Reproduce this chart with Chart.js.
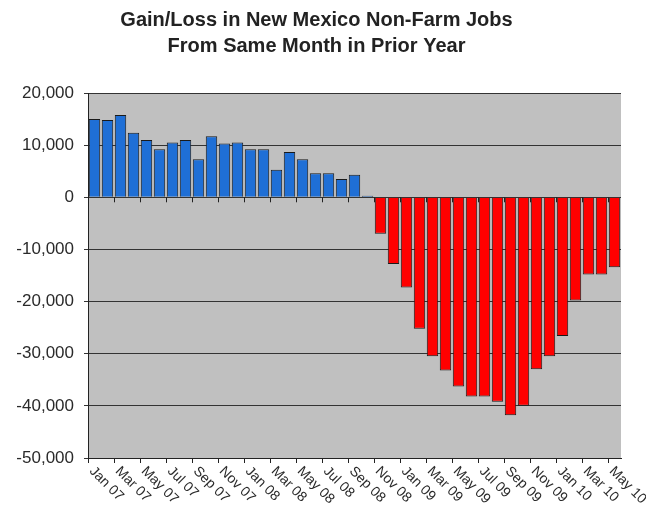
<!DOCTYPE html>
<html>
<head>
<meta charset="utf-8">
<script src="https://cdn.jsdelivr.net/npm/chart.js@4"></script>
<style>
  html, body { margin: 0; padding: 0; background: #fff; }
  #wrap { width: 646px; height: 513px; }
</style>
</head>
<body>
<div id="wrap"><canvas id="jobs-graph"></canvas></div>
<script>
// month labels, Jan 07 .. May 10
let month_labels = ["Jan 07","Feb 07","Mar 07","Apr 07","May 07","Jun 07","Jul 07","Aug 07","Sep 07","Oct 07","Nov 07","Dec 07",
  "Jan 08","Feb 08","Mar 08","Apr 08","May 08","Jun 08","Jul 08","Aug 08","Sep 08","Oct 08","Nov 08","Dec 08",
  "Jan 09","Feb 09","Mar 09","Apr 09","May 09","Jun 09","Jul 09","Aug 09","Sep 09","Oct 09","Nov 09","Dec 09",
  "Jan 10","Feb 10","Mar 10","Apr 10","May 10"];

// gain / loss in jobs vs same month prior year
let job_change = [15000, 14800, 15800, 12400, 11000, 9200, 10500, 11000, 7300, 11700, 10300, 10500,
  9200, 9200, 5300, 8700, 7300, 4600, 4600, 3500, 4300, 300, -7000, -12800,
  -17300, -25200, -30500, -33200, -36300, -38200, -38200, -39200, -41800, -40000, -33000, -30500,
  -26600, -19800, -14800, -14800, -13400];

let y_ticks = [-50000, -40000, -30000, -20000, -10000, 0, 10000, 20000];

const ctx = document.getElementById("jobs-graph").getContext("2d");

// gray plot background
const plotBg = {
  id: "plotBg",
  beforeDraw(chart) {
    let a = chart.chartArea, c = chart.ctx;
    c.save();
    c.fillStyle = "#c0c0c0";
    c.fillRect(a.left, a.top, a.right - a.left, a.bottom - a.top);
    c.restore();
  }
};

// slanted month labels (every other month) + tick marks on the zero line
const slantLabels = {
  id: "slantLabels",
  afterDraw(chart) {
    let x = chart.scales.x, y = chart.scales.y, c = chart.ctx;
    let zero = y.getPixelForValue(0);
    let step = x.getPixelForValue(1) - x.getPixelForValue(0);
    c.save();
    c.strokeStyle = "#222";
    c.lineWidth = 1;
    for (let i = 0; i <= month_labels.length; i += 2) {
      let bx = Math.round(x.getPixelForValue(i) - step / 2) + 0.5;
      c.beginPath();
      c.moveTo(bx, zero);
      c.lineTo(bx, zero + 5);
      c.stroke();
    }
    c.fillStyle = "#2a2a2a";
    c.font = "14px 'Liberation Sans', Arial, sans-serif";
    c.textAlign = "left";
    c.textBaseline = "middle";
    month_labels.forEach((lab, i) => {
      if (i % 2) return;
      let px = x.getPixelForValue(i);
      c.save();
      c.translate(px - 3, y.bottom + 11);
      c.rotate(Math.PI / 4);
      c.fillText(lab, 0, 0);
      c.restore();
    });
    c.restore();
  }
};

new Chart(ctx, {
  type: "bar",
  data: {
    labels: month_labels,
    datasets: [{
      data: job_change,
      backgroundColor: (c) => (c.raw >= 0 ? "#1f6fd6" : "#ff0000"),
      borderColor: "#1a1a1a",
      borderWidth: 1,
      barPercentage: 0.88,
      categoryPercentage: 1.0
    }]
  },
  options: {
    responsive: true,
    maintainAspectRatio: false,
    animation: false,
    layout: { padding: { left: 12, right: 25, top: 0, bottom: 0 } },
    plugins: {
      legend: { display: false },
      tooltip: { enabled: false },
      title: {
        display: true,
        text: ["Gain/Loss in New Mexico Non-Farm Jobs", "From Same Month in Prior Year"],
        color: "#222",
        font: { family: "'Liberation Sans', Arial, sans-serif", size: 20, weight: "bold", lineHeight: 1.3 },
        padding: { top: 7, bottom: 34 }
      }
    },
    scales: {
      x: {
        grid: {
          offset: true,
          drawOnChartArea: false,
          drawTicks: true,
          tickLength: 5,
          color: (c) => (c.index % 2 === 0 ? "#222" : "rgba(0,0,0,0)")
        },
        border: { display: true, color: "#222", width: 1 },
        ticks: { display: false },
        afterFit(scale) { scale.height = 55; }
      },
      y: {
        min: -50000,
        max: 20000,
        afterBuildTicks(scale) { scale.ticks = y_ticks.map(v => ({ value: v })); },
        grid: { color: "#333", lineWidth: 1, tickLength: 4, drawTicks: true },
        border: { display: true, color: "#222", width: 1 },
        ticks: {
          color: "#2a2a2a",
          padding: 10,
          font: { family: "'Liberation Sans', Arial, sans-serif", size: 17 },
          callback: (v) => v.toLocaleString("en-US")
        },
        afterFit(scale) { scale.width = 76; }
      }
    }
  },
  plugins: [plotBg, slantLabels]
});
</script>
</body>
</html>
